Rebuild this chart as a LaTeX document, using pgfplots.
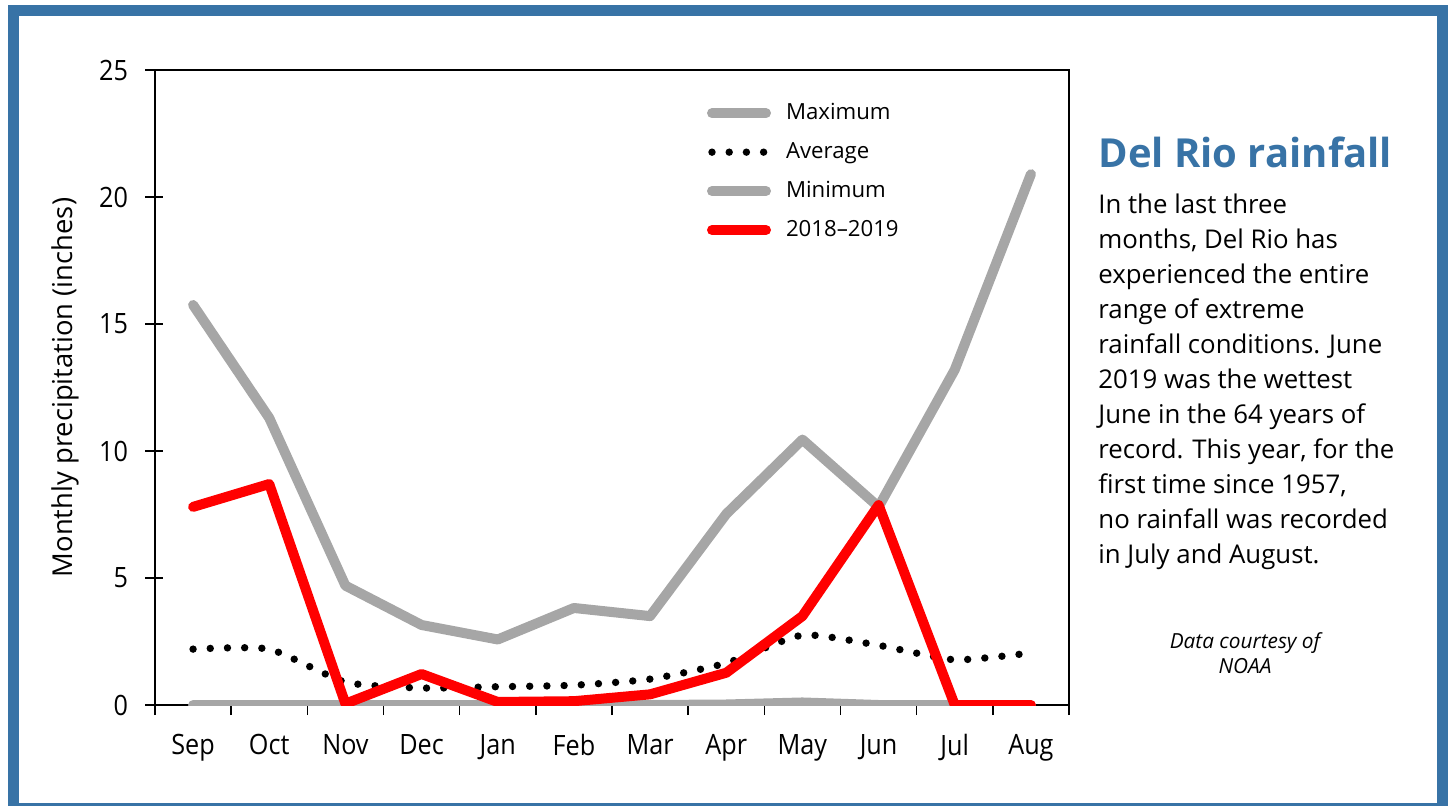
\documentclass[border=0pt]{standalone}
\usepackage{fontspec}
\setmainfont{Open Sans}
\newfontfamily\narrowfont{Open Sans}[FakeStretch=0.9]
\usepackage{pgfplots}
\pgfplotsset{compat=1.18}
\definecolor{frameblue}{HTML}{3873A6}
\definecolor{maxgray}{HTML}{A6A6A6}
\definecolor{rred}{HTML}{FF0000}
\begin{document}
\begin{tikzpicture}
\useasboundingbox (0,0) rectangle (725pt,402.5pt);
\draw[frameblue, line width=5.5pt] (6.5pt,-1.5pt) rectangle (721.25pt,397.25pt);
\begin{axis}[
  at={(77.5pt,50pt)}, anchor=south west,
  scale only axis, width=457pt, height=317.5pt,
  xmin=-0.5, xmax=11.5, ymin=0, ymax=25,
  xtick={0,...,11},
  xticklabels={Sep,Oct,Nov,Dec,Jan,Feb,Mar,Apr,May,Jun,Jul,Aug},
  minor xtick={-0.5,0.5,...,11.5},
  ytick={0,5,...,25},
  tick align=outside,
  major tick length=9pt, minor tick length=5pt,
  major x tick style={draw=none},
  y tick style={xshift=4pt},
  xtick pos=bottom, ytick pos=left,
  axis line style={line width=0.8pt},
  tick style={line width=0.8pt, black},
  /pgf/number format/assume math mode=true,
  tick label style={font=\narrowfont\fontsize{14}{16}\selectfont},
  xticklabel style={yshift=-2.2pt},
  yticklabel style={xshift=-1pt},
  ylabel={Monthly precipitation (inches)},
  ylabel style={at={(axis description cs:-0.0985,0.5)}, anchor=center, font=\fontsize{13.7}{16}\selectfont},
  legend style={at={(0.6035,0.954)}, anchor=north west, draw=none, fill=none,
    font=\fontsize{11.1}{13}\selectfont, row sep=5.9pt, column sep=5.5pt, inner sep=0pt,
    nodes={inner sep=2pt}},
  legend cell align=left,
  legend image code/.code={\draw[#1] (0pt,0pt) -- (27pt,0pt);},
]
\addplot[maxgray, line width=5pt, line cap=round, line join=round] coordinates {
(0,15.75) (1,11.3) (2,4.7) (3,3.15) (4,2.58) (5,3.82) (6,3.5) (7,7.52) (8,10.45) (9,7.8) (10,13.2) (11,20.9)};
\addlegendentry{Maximum}
\addplot[black, line width=3.7pt, line cap=round, dash pattern=on 0pt off 8.6pt, smooth, tension=0.35] coordinates {
(0,2.2) (1,2.2) (2,0.9) (3,0.67) (4,0.72) (5,0.78) (6,1.02) (7,1.65) (8,2.75) (9,2.35) (10,1.78) (11,2.05)};
\addlegendentry{Average}
\addplot[maxgray, line width=5pt, line cap=round, line join=round] coordinates {
(0,0) (1,0) (2,0) (3,0) (4,0) (5,0) (6,0) (7,0.02) (8,0.1) (9,0) (10,0) (11,0)};
\addlegendentry{Minimum}
\addplot[rred, line width=5pt, line cap=round, line join=round] coordinates {
(0,7.8) (1,8.7) (2,0.05) (3,1.22) (4,0.12) (5,0.15) (6,0.42) (7,1.27) (8,3.5) (9,7.87) (10,0) (11,0)};
\addlegendentry{2018–2019}
\end{axis}
\node[anchor=base west, inner sep=0pt, text=frameblue, font=\fontsize{20}{24}\selectfont\bfseries] at (549pt,319pt) {Del Rio rainfall};
\begin{scope}[every node/.style={anchor=base west, inner sep=0pt, font=\fontsize{12.9}{15}\selectfont}]
\node at (549pt,296pt) {In the last three};
\node at (549pt,278.5pt) {months, Del Rio has};
\node at (549pt,261pt) {experienced the entire};
\node at (549pt,243.5pt) {range of extreme};
\node at (549pt,226pt) {rainfall conditions. June};
\node at (549pt,208.5pt) {2019 was the wettest};
\node at (549pt,191pt) {June in the 64 years of};
\node at (549pt,173.5pt) {record. This year, for the};
\node at (549pt,156pt) {first time since 1957,};
\node at (549pt,138.5pt) {no rainfall was recorded};
\node at (549pt,121pt) {in July and August.};
\end{scope}
\node[anchor=base, inner sep=0pt, font=\fontsize{10.4}{12}\selectfont\itshape] at (622.5pt,78.5pt) {Data courtesy of};
\node[anchor=base, inner sep=0pt, font=\fontsize{10.4}{12}\selectfont\itshape] at (622.5pt,66pt) {NOAA};
\end{tikzpicture}
\end{document}
